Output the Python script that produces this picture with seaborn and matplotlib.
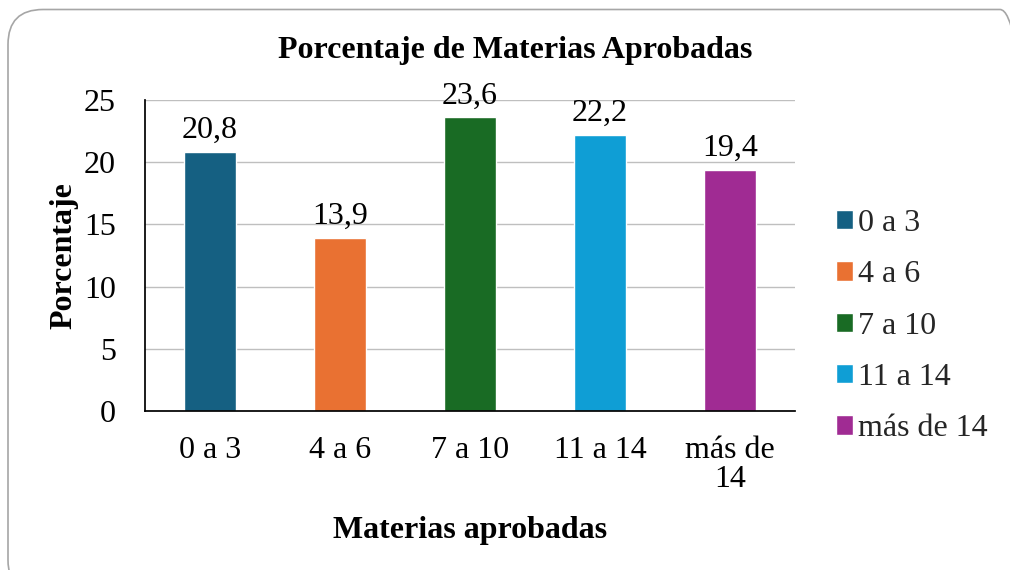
import matplotlib
matplotlib.use("Agg")
import matplotlib.pyplot as plt
import seaborn as sns
import pandas as pd
from matplotlib.patches import FancyBboxPatch

categories = ["0 a 3", "4 a 6", "7 a 10", "11 a 14", "más de 14"]
tick_labels = ["0 a 3", "4 a 6", "7 a 10", "11 a 14", "más de\n14"]
values = [20.8, 13.9, 23.6, 22.2, 19.4]
colors = ["#156082", "#E97132", "#196B24", "#0F9ED5", "#A02B93"]

sns.set_theme(style="white")
plt.rcParams["font.family"] = ["Liberation Serif", "DejaVu Serif"]

df = pd.DataFrame({"cat": categories, "val": values})

fig = plt.figure(figsize=(10.1, 5.7), dpi=100)
ax = fig.add_axes([0.1436, 0.279, 0.787 - 0.1436, 0.8246 - 0.279])

sns.barplot(data=df, x="cat", y="val", hue="cat", palette=colors,
            dodge=False, width=0.4, ax=ax, legend=True, saturation=1)

FS = 23
ax.set_ylim(0, 25)
ax.set_yticks([0, 5, 10, 15, 20, 25])
ax.yaxis.grid(True, color="#BFBFBF", linewidth=1)
ax.set_axisbelow(True)
for s in ["top", "right"]:
    ax.spines[s].set_visible(False)
ax.spines["left"].set_color("black")
ax.spines["bottom"].set_color("black")
ax.tick_params(axis="both", length=0, labelsize=FS, colors="black")
ax.tick_params(axis="y", pad=21)
ax.tick_params(axis="x", pad=18)
ax.set_xticks(range(len(tick_labels)))
ax.set_xticklabels(tick_labels, linespacing=1.0)

for c in ax.containers:
    ax.bar_label(c, labels=[f"{v:.1f}".replace(".", ",") for v in c.datavalues],
                 padding=5, fontsize=FS, color="black")

ax.set_xlabel("Materias aprobadas", fontsize=FS, fontweight="bold", labelpad=16, color="black")
ax.set_ylabel("Porcentaje", fontsize=FS, fontweight="bold", labelpad=4, color="black")
fig.text(0.51, 0.912, "Porcentaje de Materias Aprobadas", ha="center", va="center",
         fontsize=FS, fontweight="bold", color="black")

leg = ax.legend(loc="center left", bbox_to_anchor=(1.043, 0.273), frameon=False,
                fontsize=FS, handlelength=0.55, handleheight=0.55,
                handletextpad=0.15, labelspacing=0.7, borderaxespad=0)

border = FancyBboxPatch((0.08, -0.25), 10.27, 5.855,
                        boxstyle="round,pad=0,rounding_size=0.35",
                        transform=fig.dpi_scale_trans, fill=False,
                        edgecolor="#A6A6A6", linewidth=1.2)
fig.patches.append(border)

fig.savefig("out.png", dpi=100)
